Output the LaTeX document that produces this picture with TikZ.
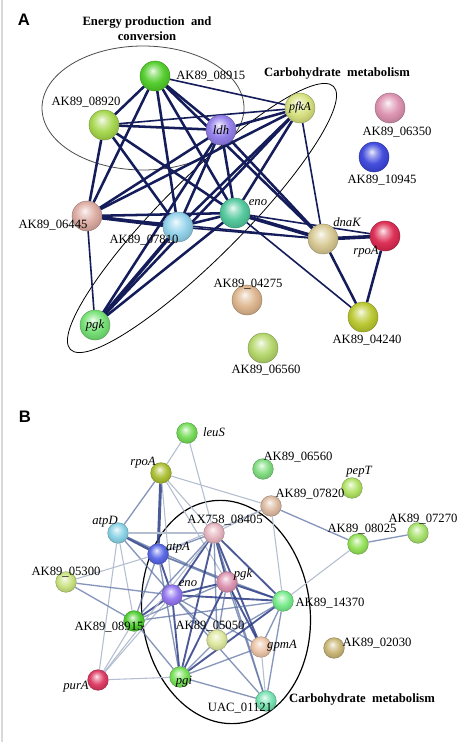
\documentclass[tikz,border=0pt]{standalone}
\usepackage{fontspec}
\setmainfont{Liberation Serif}
\newfontfamily\panelfont{Liberation Sans}
\pgfdeclarelayer{bg}
\pgfsetlayers{bg,main}
\makeatletter
\pgfdeclareradialshading[tikz@ball]{sball}{\pgfqpoint{-4bp}{9bp}}{%
  color(0bp)=(tikz@ball!10!white); color(7bp)=(tikz@ball!50!white);
  color(17bp)=(tikz@ball!95!white); color(27bp)=(tikz@ball!88!black);
  color(34bp)=(tikz@ball!75!black); color(50bp)=(tikz@ball!70!black)}
\makeatother
% panel A colours
\definecolor{navyA}{RGB}{20,28,90}
\definecolor{cAa}{RGB}{80,205,40}
\definecolor{cAb}{RGB}{165,215,75}
\definecolor{cAldh}{RGB}{145,125,235}
\definecolor{cApfk}{RGB}{215,225,125}
\definecolor{cAc}{RGB}{220,145,175}
\definecolor{cAd}{RGB}{60,70,220}
\definecolor{cAe}{RGB}{220,170,160}
\definecolor{cAf}{RGB}{145,210,235}
\definecolor{cAeno}{RGB}{80,200,155}
\definecolor{cAdna}{RGB}{215,200,145}
\definecolor{cArpo}{RGB}{220,40,80}
\definecolor{cAg}{RGB}{220,180,140}
\definecolor{cAh}{RGB}{185,200,45}
\definecolor{cAi}{RGB}{180,215,105}
\definecolor{cApgk}{RGB}{115,225,115}
% panel B colours
\definecolor{bleu}{RGB}{115,220,85}
\definecolor{brpo}{RGB}{170,190,45}
\definecolor{batpD}{RGB}{135,210,230}
\definecolor{batpA}{RGB}{85,100,230}
\definecolor{bAX}{RGB}{230,180,190}
\definecolor{bg06560}{RGB}{125,220,125}
\definecolor{bpep}{RGB}{175,225,95}
\definecolor{bg07820}{RGB}{220,185,160}
\definecolor{bg08025}{RGB}{145,225,85}
\definecolor{bg07270}{RGB}{165,225,105}
\definecolor{bpgk}{RGB}{220,145,175}
\definecolor{beno}{RGB}{145,115,240}
\definecolor{bg14370}{RGB}{115,235,135}
\definecolor{bg05300}{RGB}{200,225,125}
\definecolor{bg08915}{RGB}{75,205,45}
\definecolor{bg05050}{RGB}{220,230,155}
\definecolor{bgpm}{RGB}{235,195,165}
\definecolor{bg02030}{RGB}{200,180,115}
\definecolor{bpur}{RGB}{220,55,95}
\definecolor{bpgi}{RGB}{115,225,85}
\definecolor{bUAC}{RGB}{115,225,175}
\definecolor{edS}{RGB}{45,62,135}
\definecolor{edM}{RGB}{95,115,165}
\definecolor{edL}{RGB}{180,190,208}
\begin{document}
\begin{tikzpicture}[x=0.75pt,y=-0.75pt,
  ba/.style={circle,inner sep=0pt,minimum size=22.5pt,ball color=#1,shading=sball,draw=#1!70!black,line width=0.3pt},
  bb/.style={circle,inner sep=0pt,minimum size=15.5pt,ball color=#1,shading=sball,draw=#1!70!black,line width=0.3pt},
  lab/.style={font=\fontsize{9.5}{11}\selectfont,inner sep=0pt},
  itl/.style={font=\fontsize{9.5}{11}\selectfont\itshape,inner sep=0pt},
  ttl/.style={font=\fontsize{9.5}{11}\selectfont\bfseries,inner sep=0pt,align=center},
  pnl/.style={font=\panelfont\bfseries\fontsize{12.5}{14}\selectfont,inner sep=0pt},
  eA/.style={draw=navyA,line width=1.9pt},
  eAt/.style={draw=navyA,line width=1.2pt},
  eAd/.style={draw=navyA,line width=2.7pt},
  sB/.style={draw=edS,line width=1.4pt,draw opacity=0.85},
  mB/.style={draw=edM,line width=1.0pt,draw opacity=0.75},
  lB/.style={draw=edL,line width=0.8pt},
  ringA/.style={draw=black!70,line width=0.6pt},
  ringB/.style={draw=black,line width=0.9pt}]
\useasboundingbox (0,0) rectangle (474,742);
\begin{pgfonlayer}{bg}
\fill[white] (0,0) rectangle (474,742);
\draw[black!15,line width=0.8pt] (2,0) -- (2,742);
\end{pgfonlayer}

% ================= Panel A =================
\node[pnl] (pA) at (24,20) {A};
\node[ttl] (tEn) at (147,29) {Energy production\ \ and\\conversion};
\node[ttl] (tCa) at (337,73) {Carbohydrate\ \ metabolism};

\node[ba=cAa] (a08915) at (155,76) {};
\node[ba=cAb] (a08920) at (104,125) {};
\node[ba=cAldh] (aldh) at (221,130) {\fontsize{9.5}{11}\selectfont\itshape ldh};
\node[ba=cApfk] (apfk) at (300,108) {\fontsize{9}{11}\selectfont\itshape pfkA};
\node[ba=cAc] (a06350) at (390,108) {};
\node[ba=cAd] (a10945) at (374,157) {};
\node[ba=cAe] (a06445) at (87,216) {};
\node[ba=cAf] (a07810) at (178,227) {};
\node[ba=cAeno] (aeno) at (235,213) {};
\node[ba=cAdna] (adna) at (323,239) {};
\node[ba=cArpo] (arpo) at (385,236) {};
\node[ba=cAg] (a04275) at (247,300) {};
\node[ba=cAh] (a04240) at (363,317) {};
\node[ba=cAi] (a06560) at (263,348) {};
\node[ba=cApgk] (apgk) at (95,325) {\fontsize{9.5}{11}\selectfont\itshape pgk};

\node[lab,anchor=west] (l08915) at (176,76) {AK89\_08915};
\node[lab] (l08920) at (86,102) {AK89\_08920};
\node[lab] (l06350) at (397,132) {AK89\_06350};
\node[lab] (l10945) at (382,180) {AK89\_10945};
\node[lab] (l06445) at (53,225) {AK89\_06445};
\node[lab] (l07810) at (144,240) {AK89\_07810};
\node[itl] (leno) at (258,203) {eno};
\node[itl] (ldna) at (347,222) {dnaK};
\node[itl] (lrpo) at (366,252) {rpoA};
\node[lab] (l04275) at (248,284) {AK89\_04275};
\node[lab] (l04240) at (367,340) {AK89\_04240};
\node[lab] (l06560) at (266,370) {AK89\_06560};

\begin{pgfonlayer}{bg}
\draw[ringA] (143,108) ellipse [x radius=101, y radius=62];
\draw[ringA,draw=black] [rotate around={45:(202,218)}] (202,218) ellipse [x radius=186, y radius=40];
\draw[eA] (a08915) -- (a08920);
\draw[eA] (a08915) -- (aldh);
\draw[eAt] (a08915) -- (apfk);
\draw[eA] (a08915) -- (a06445);
\draw[eA] (a08915) -- (a07810);
\draw[eA] (a08915) -- (aeno);
\draw[eA] (a08915) -- (adna);
\draw[eA] (a08920) -- (aldh);
\draw[eAt] (a08920) -- (apfk);
\draw[eA] (a08920) -- (a06445);
\draw[eA] (a08920) -- (a07810);
\draw[eA] (a08920) -- (aeno);
\draw[eA] (aldh) -- (apfk);
\draw[eA] (aldh) -- (a06445);
\draw[eA] (aldh) -- (a07810);
\draw[eA] (aldh) -- (aeno);
\draw[eA] (aldh) -- (apgk);
\draw[eA] (aldh) -- (adna);
\draw[eA] (apfk) -- (a06445);
\draw[eA] (apfk) -- (a07810);
\draw[eA] (apfk) -- (aeno);
\draw[eA] (apfk) -- (apgk);
\draw[eAt] (apfk) -- (adna);
\draw[eAd] (a06445) -- (a07810);
\draw[eA] (a06445) -- (aeno);
\draw[eAt] (a06445) -- (apgk);
\draw[eAt] (a06445) -- (adna);
\draw[eA] (a07810) -- (aeno);
\draw[eAd] (a07810) -- (apgk);
\draw[eAt] (a07810) -- (adna);
\draw[eA] (aeno) -- (apgk);
\draw[eAd] (aeno) -- (adna);
\draw[eAt] (aeno) -- (arpo);
\draw[eAt] (aeno) -- (a04240);
\draw[eAd] (adna) -- (arpo);
\draw[eA] (adna) -- (a04240);
\draw[eA] (arpo) -- (a04240);
\end{pgfonlayer}

% ================= Panel B =================
\node[pnl] (pB) at (25,417) {B};
\node[ttl] (tCb) at (362,699) {Carbohydrate\ \ metabolism};

\node[bb=bleu] (bleuS) at (187,433) {};
\node[bb=brpo] (brpoA) at (161,473) {};
\node[bb=batpD] (batpDn) at (118,533) {};
\node[bb=batpA] (batpAn) at (158,554) {};
\node[bb=bAX] (bAXn) at (214,533) {};
\node[bb=bg06560] (b06560) at (263,469) {};
\node[bb=bpep] (bpepT) at (352,488) {};
\node[bb=bg07820] (b07820) at (271,506) {};
\node[bb=bg08025] (b08025) at (358,544) {};
\node[bb=bg07270] (b07270) at (418,533) {};
\node[bb=bpgk] (bpgkn) at (227,582) {};
\node[bb=beno] (benon) at (172,595) {};
\node[bb=bg14370] (b14370) at (283,601) {};
\node[bb=bg05300] (b05300) at (66,582) {};
\node[bb=bg08915] (b08915) at (134,621) {};
\node[bb=bg05050] (b05050) at (217,640) {};
\node[bb=bgpm] (bgpmA) at (261,647) {};
\node[bb=bg02030] (b02030) at (334,648) {};
\node[bb=bpur] (bpurA) at (98,680) {};
\node[bb=bpgi] (bpgin) at (180,677) {};
\node[bb=bUAC] (bUACn) at (266,701) {};

\node[itl] (mleu) at (214,432) {leuS};
\node[itl] (mrpo) at (143,463) {rpoA};
\node[itl] (matpD) at (105,522) {atpD};
\node[itl] (matpA) at (178,548) {atpA};
\node[lab] (mAX) at (225,520) {AX758\_08405};
\node[lab] (m06560) at (298,457) {AK89\_06560};
\node[itl] (mpep) at (359,472) {pepT};
\node[lab] (m07820) at (310,494) {AK89\_07820};
\node[lab] (m08025) at (362,529) {AK89\_08025};
\node[lab] (m07270) at (423,519) {AK89\_07270};
\node[itl] (mpgk) at (243,574) {pgk};
\node[itl] (meno) at (188,584) {eno};
\node[lab] (m14370) at (330,603) {AK89\_14370};
\node[lab] (m05300) at (66,572) {AK89\_05300};
\node[lab] (m08915) at (109,627) {AK89\_08915};
\node[lab] (m05050) at (210,626) {AK89\_05050};
\node[itl] (mgpm) at (282,646) {gpmA};
\node[lab] (m02030) at (377,643) {AK89\_02030};
\node[itl] (mpur) at (76,687) {purA};
\node[itl] (mpgi) at (184,682) {pgi};
\node[lab] (mUAC) at (240,708) {UAC\_01121};

\begin{pgfonlayer}{bg}
\draw[ringB] [rotate around={7:(226,612)}] (226,612) ellipse [x radius=84, y radius=112];
\draw[lB] (bleuS) -- (brpoA);
\draw[lB] (bleuS) -- (bAXn);
\draw[sB,line width=2.2pt] (brpoA) -- (batpAn);
\draw[mB] (brpoA) -- (batpDn);
\draw[lB] (brpoA) -- (bAXn);
\draw[lB] (brpoA) -- (b07820);
\draw[lB] (brpoA) -- (benon);
\draw[lB] (brpoA) -- (bpgkn);
\draw[sB,line width=2pt] (batpDn) -- (batpAn);
\draw[lB] (batpDn) -- (bAXn);
\draw[mB] (batpDn) -- (bpgkn);
\draw[mB] (batpDn) -- (benon);
\draw[lB] (batpDn) -- (b08915);
\draw[lB] (batpDn) -- (bpurA);
\draw[lB] (b05300) -- (batpAn);
\draw[mB] (batpAn) -- (bAXn);
\draw[sB] (batpAn) -- (benon);
\draw[mB] (batpAn) -- (bpgkn);
\draw[mB] (batpAn) -- (b14370);
\draw[mB] (batpAn) -- (b08915);
\draw[mB] (batpAn) -- (bpgin);
\draw[lB] (batpAn) -- (b07820);
\draw[sB] (bAXn) -- (benon);
\draw[sB] (bAXn) -- (bpgkn);
\draw[sB] (bAXn) -- (b14370);
\draw[sB] (bAXn) -- (bgpmA);
\draw[sB] (bAXn) -- (bpgin);
\draw[mB] (bAXn) -- (b05050);
\draw[mB] (bAXn) -- (bUACn);
\draw[lB] (bAXn) -- (b07820);
\draw[mB] (bAXn) -- (b08915);
\draw[sB] (benon) -- (bpgkn);
\draw[sB] (benon) -- (b14370);
\draw[mB] (benon) -- (bgpmA);
\draw[sB] (benon) -- (bpgin);
\draw[sB] (benon) -- (b08915);
\draw[mB] (benon) -- (b05300);
\draw[mB] (benon) -- (bUACn);
\draw[mB] (benon) -- (b05050);
\draw[lB] (benon) -- (bpurA);
\draw[sB] (bpgkn) -- (b14370);
\draw[sB] (bpgkn) -- (bgpmA);
\draw[sB] (bpgkn) -- (bpgin);
\draw[mB] (bpgkn) -- (bUACn);
\draw[mB] (bpgkn) -- (b05050);
\draw[mB] (bpgkn) -- (b08915);
\draw[sB] (b14370) -- (bpgin);
\draw[mB] (b14370) -- (bgpmA);
\draw[mB] (b14370) -- (bUACn);
\draw[mB] (b14370) -- (b05050);
\draw[mB] (b14370) -- (b08915);
\draw[lB] (b14370) -- (b07820);
\draw[lB] (b14370) -- (b08025);
\draw[mB] (b08915) -- (bpgin);
\draw[mB] (b08915) -- (b05300);
\draw[lB] (b08915) -- (bpurA);
\draw[lB] (bpurA) -- (bpgin);
\draw[lB] (bpurA) -- (bAXn);
\draw[mB] (bgpmA) -- (bpgin);
\draw[lB] (bgpmA) -- (bUACn);
\draw[mB] (bUACn) -- (bpgin);
\draw[mB] (b05050) -- (bpgin);
\draw[mB] (b07820) -- (b08025);
\draw[mB] (b08025) -- (b07270);
\end{pgfonlayer}
\end{tikzpicture}
\end{document}
